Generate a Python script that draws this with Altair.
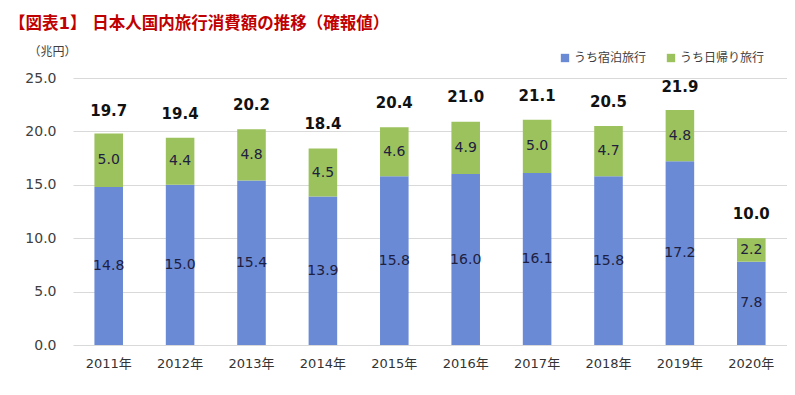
import altair as alt
import pandas as pd

years = ["2011年", "2012年", "2013年", "2014年", "2015年", "2016年", "2017年", "2018年", "2019年", "2020年"]
stay = [14.8, 15.0, 15.4, 13.9, 15.8, 16.0, 16.1, 15.8, 17.2, 7.8]
day = [5.0, 4.4, 4.8, 4.5, 4.6, 4.9, 5.0, 4.7, 4.8, 2.2]
totals = [19.7, 19.4, 20.2, 18.4, 20.4, 21.0, 21.1, 20.5, 21.9, 10.0]
series = ["うち宿泊旅行", "うち日帰り旅行"]
colors = ["#6a8ad6", "#9bc25c"]
title_text = "【図表1】 日本人国内旅行消費額の推移（確報値）"
unit_text = "（兆円）"

FONT = "DejaVu Sans, Noto Sans CJK JP"

rows = []
for y, s, d in zip(years, stay, day):
    rows.append({"year": y, "series": series[0], "value": s, "start": 0.0, "end": s, "mid": s / 2, "ord": 0})
    rows.append({"year": y, "series": series[1], "value": d, "start": s, "end": s + d, "mid": s + d / 2, "ord": 1})
df = pd.DataFrame(rows)
tot = pd.DataFrame({"year": years, "total": totals})
ttl = pd.DataFrame({"t": [title_text]})

xenc = alt.X("year:N", sort=years, title=None,
             scale=alt.Scale(paddingInner=0.6, paddingOuter=0.3),
             axis=alt.Axis(labelAngle=0, ticks=False, domain=False, labelPadding=12,
                           labelFontSize=13, labelColor="#333333", labelFont=FONT))

bars = alt.Chart(df).mark_bar().encode(
    x=xenc,
    y=alt.Y("start:Q", scale=alt.Scale(domain=[0, 25], nice=False),
            axis=alt.Axis(values=[0, 5, 10, 15, 20, 25], format=".1f", ticks=False, domain=False,
                          labelPadding=17, labelFontSize=14, labelColor="#404040", labelFont=FONT,
                          gridColor="#d9d9d9", gridWidth=1,
                          title=unit_text, titleAngle=0, titleX=-21, titleY=-27,
                          titleAlign="center", titleBaseline="middle", titleFontSize=12,
                          titleFontWeight="normal", titleColor="#404040", titleFont=FONT)),
    y2="end:Q",
    color=alt.Color("series:N", scale=alt.Scale(domain=series, range=colors),
                    legend=alt.Legend(orient="none", legendX=486, legendY=-26, direction="horizontal",
                                      title=None, symbolType="square", symbolSize=70,
                                      symbolStrokeWidth=0, labelFontSize=12, labelFont=FONT,
                                      labelColor="#404040", columnPadding=18, labelOffset=3)),
    order="ord:Q",
)

seg = alt.Chart(df).mark_text(fontSize=14, color="#1f2040", font=FONT, baseline="middle").encode(
    x=alt.X("year:N", sort=years),
    y=alt.Y("mid:Q"),
    text=alt.Text("value:Q", format=".1f"),
)

totals_txt = alt.Chart(tot).mark_text(fontSize=15, fontWeight="bold", color="#111111", font=FONT,
                                      baseline="middle", dy=-24).encode(
    x=alt.X("year:N", sort=years),
    y=alt.Y("total:Q"),
    text=alt.Text("total:Q", format=".1f"),
)

title_mark = alt.Chart(ttl).mark_text(fontSize=16.5, fontWeight="bold", color="#c00000", font=FONT,
                                      align="left", baseline="alphabetic").encode(
    x=alt.value(-64), y=alt.value(-49), text="t:N"
)

chart = alt.layer(bars, seg, totals_txt, title_mark).properties(
    width=714, height=267,
    autosize=alt.AutoSizeParams(type="none"),
    padding={"left": 65, "top": 70, "right": 0, "bottom": 40},
).configure_view(stroke=None)

chart.save("out.html", embed_options={"renderer": "svg", "actions": False})
